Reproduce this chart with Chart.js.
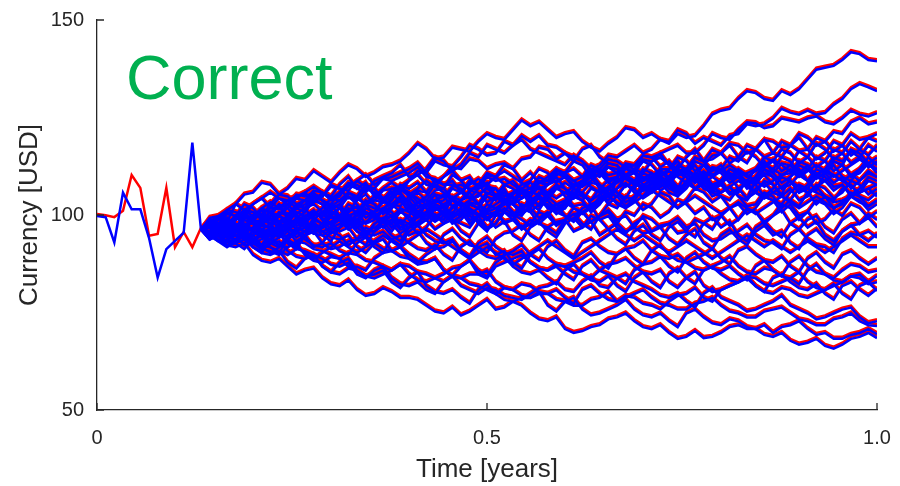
<!DOCTYPE html>
<html>
<head>
<meta charset="utf-8">
<script src="https://cdn.jsdelivr.net/npm/chart.js@4.4.1/dist/chart.umd.min.js"></script>
<style>
  html, body { margin: 0; padding: 0; background: #fff; }
  #contenedor { width: 900px; height: 486px; position: relative; }
</style>
</head>
<body>
<div id="contenedor"><canvas id="grafico"></canvas></div>
<script>
// time grid: 90 steps per year, the bundle starts at step 12
const dt = 1 / 90;
const startSteps = 12;

// the two single paths before the bundle
const redStart  = [100, 99.7, 99.2, 100.8, 110, 106.7, 94.4, 94.9, 106.7, 91.5, 95.4, 91.5, 96.5];
const blueStart = [100, 99.7, 93.2, 106, 101.7, 101.7, 94.4, 84.2, 91.5, 93.6, 95.7, 118.8, 96.5];

// upper outliers
const pathA = [96.5,99.5,100,98.5,103,105.5,106,108.5,108,105.5,107,109.5,109,111.5,110,108.5,111,113,112,110,111,112.5,113,114,116,118.5,117,114.5,115,117.5,117,116.5,119,121,120,119.5,122,124.5,123,124,122,120,121,121.5,119,117.5,116.5,118.5,120,122.5,122,120,121,119.5,118.5,121,120,120.5,123,126,127,127.5,130,132,131.5,130,129.5,132,131,132.5,135,137.5,138,138.5,140,142,141.5,140,139.7];
const pathB = [96.5,98.5,98,96,97,99.5,100,100.5,102,104.5,104,102,103,105.5,105,107.5,107,104.5,105,103,104,106.5,107,107.5,109,111.5,111,108.5,110,112.5,112,114.5,114,112,113,113.5,112,114.5,115,117.5,117,114.5,116,115,114,112,113,115.5,115,116.5,118,116,117,119.5,119,122,121,118.5,120,119,118,120.5,121,123.5,123,123.5,125,127.5,126.5,126,127,126,126.4,128.5,130,132.5,133.8,133,132];
const pathC = [96.5,94.5,95,97.5,97,96.5,99,100.5,98,98.5,100,102.5,102,103,101,99.5,99,100,101,103.5,104,103.5,106,107,105,102.5,103,104,105,107.5,108,107,107,110,109,109.5,108,106.5,106,107,108,110.5,111,112,110,111,112,114.5,114,112.5,113,115.5,115,116,117,118,116,116,118,121,120,119.5,122,124,123.8,122.5,123,125,124.5,124,125,125.5,124,123.5,125,127,126,125.5,126.4];
const pathD = [96.5,98,97,94.5,95,96.5,97,99.5,99,97,98,101,100,100.5,102,104.5,104,105,103,100.5,101,103.5,103,101,102,103.5,104,106.5,107,104.5,106,108.5,108,110.5,110,108,109,106.5,107,110,109,111.5,111,109,110,113,112,110.5,111,113.5,113,115.5,115,112.5,114,111.5,112,115,114,117,116,118.5,118,116,117,119.5,119,117.5,118,121,120,118,119,121.5,121,124,125,123.5,124];
const pathE = [96.5,96,98,100.5,100,97.5,99,101.5,101,102,103,100.5,102,105,104,102,103,106,105,108,107,104.5,106,103.5,104,106.5,106,109,108,108,107,104.5,105,107.5,107,105,106,108,109,112,111,108.5,110,107.5,108,111,110,112.5,112,110,111,114,113,110.5,112,115,114,111.5,113,115.5,116,113.5,115,118,117,115,116,119,118,116.5,117,120,119,116.5,118,121,119.5,120,121];
// dense upper band
const pathF = [96.5,98.5,98,97,99,101.5,101,99,100,100.5,102,104.5,104,103.5,106,104,105,108,107,106,109,110,111,113,110,110.5,112,115,114,111.5,113,116,115,118,117,116,118,120.5,119,120.5,118,117.5,116,114,117,118,115,113.5,113,110.5,112,114.5,114,115,113,112,115,117,114,114.5,116,118,115,113.5,117,119.5,116,115,118,120,117,114.5,116,119,118,115.5,117,120,119];
const pathG = [96.5,97,95,93.5,96,98,98,95.5,97,100,99,96.5,98,101,100,101.5,99,97.5,101,103,100,99,102,104,101,99.5,103,105.5,105,102.5,104,105,103,101.5,105,108,107,104.5,106,109,108,110,107,105.5,109,111,108,106.5,110,112.5,111,109,110,112,112,114,111,110.5,113,110.5,112,115,114,116.5,115,112.5,114,117,116,113.5,115,118.5,117,114.5,116,119,117,115.5,118];
const pathH = [96.5,99,97,98.5,99,100.5,98,96,96,94.5,98,99,100,101.5,99,96.5,97,99.5,99,98,101,102,103,105,102,100,100,103,102,99.5,101,103.5,103,106,105,103,104,107,106,105.5,108,109,110,108,109,112,111,108.5,110,113,112,111,114,116,113,110.5,111,114,113,112,112,109.5,110,111,112,115,114,111.5,113,116.5,115,112.5,114,117,116,113.5,115,118,116.5];
const pathI = [96.5,98,96,95,94,97,96,94.5,95,98,97,99.5,99,96.5,98,101,100,103,102,99.5,101,104,103,102.5,105,106,104,101.5,102,105,104,106.5,106,103.5,105,108,107,104.5,106,108.5,108,111,110,107.5,109,112,111,113.5,113,110.5,112,109,110,107.5,109,112,111,108.5,110,112.5,112,109.5,111,108,109,112,111,113.5,113,110.5,112,115,114,111.5,113,117,116,113.5,115];
const pathJ = [96.5,97,99,101.5,101,100,103,104.5,102,102,104,105,106,103.5,105,108,107,106.5,109,110.5,108,109.5,110,111,112,113.5,111,114,113,112.5,115,118,117,115.5,116,119,118,119.5,117,116,115,114,113,115.5,114,111.5,112,109,110,112,111,108,109,111.5,110,107.5,108,111,110,108,109,112,111,108.5,110,113,112,110.5,111,114,113,110.5,112,115,114,116.5,115,112.5,114];
const pathK = [96.5,95,97,99.5,98,97,100,101.5,99,100.5,97,95.5,99,100,101,103,100,97.5,98,101,100,98.5,99,102,101,102,103,105.5,102,100.5,104,106,103,100.5,101,103,103,106,105,102.5,104,107,106,104.5,108,110,107,105,109,110.5,108,107.5,110,112,109,107,111,113,110,107.5,108,111,110,109,112,114,111,108.5,110,113,112,109.5,111,114,113,110.5,112,115,113];
const pathL = [96.5,94,95,96,97,100,99,98.5,101,103,100,97.5,98,100.5,100,103,102,101,104,105.5,103,101,105,108,107,108.5,106,103.5,104,107,106,109,108,105.5,107,104,105,102.5,103,106,105,103,104,107,106,108.5,108,105.5,107,110,109,106.5,108,111,110,113,112,109.5,111,108,109,112,111,108,110,113.5,112,115,114,111,113,110,111,114,113,110,111,113.5,112];
const pathM = [96.5,95.5,98,99.5,97,94.5,95,98,97,94.5,96,99,98,95.5,97,100,99,100.5,98,96,96,99,98,101,100,97.5,99,102,101,98.5,100,103,102,99.5,101,104,103,100.5,102,105,104,101.5,103,106,105,104,107,109,106,104.5,108,111,110,107.5,109,112,111,108.5,110,107.5,109,110,107,104.5,109,110.5,108,105.5,110,112,109,106.5,111,113,110,109,112,113.5,111];
const pathN = [96.5,98,97,94.5,96,99,98,97.5,100,103,102,99.5,101,104,103,100,102,98.5,100,103,102,101.5,104,107,106,103.5,105,108,107,110.5,109,106.5,108,111,110,113,112,109,111,108.5,109,112,111,114,113,110,112,109.5,110,107.5,109,112,111,108.5,110,113,112,115,114,111.5,113,110,111,108.5,109,112,110,107,108,110.5,109,112,111,108.5,110,107,109,111.5,110];
const pathO = [96.5,97,95,92.5,93,96,95,92.5,94,97,96,93.5,95,98,97,100,99,96.5,98,101,100,97,99,96.5,97,100,99,96.5,98,101,100,103,102,99,101,98.5,99,102,101,98,100,103,102,105,104,101,103,106,105,102.5,104,107,106,109,108,105,107,110,109,106.5,108,105.5,106,109,108,105,107,110,109,106,108,111,110,107.5,108,105.5,107,110,109];
const pathP = [96.5,99,98,101,100,97.5,99,102,101,98.5,100,103,102,99,101,97.5,99,102,101,104,103,100.5,102,105,104,101,103,100,101,104,103,100.5,102,105,104,107,103,101,105,107.5,104,101.5,102,105,104,107,106,103,105,108,107,104.5,106,109,108,111,110,107,109,112,111,108.5,110,107,108,111,110,107,109,106,107,110,109,106.5,108,105,106,109,108];
const pathQ = [96.5,94,96,99,98,95.5,97,96,95,92.5,94,97,96,99.5,98,95.5,97,100,99,102,101,98.5,100,97,98,95.5,97,100,99,102.5,101,98,100,103,102,101,104,106,103,101.5,105,108,107,104.5,106,103,104,107,106,103.5,105,108,107,110,109,106.5,108,111,110,107,109,106,107,104.5,106,109,108,105,107,104,105,108,107,104.5,106,109,108,105.5,107];
const pathR = [96.5,98.5,97,96.5,99,101.5,101,100,103,105.5,105,103,104,106.5,106,105,108,110,107,108.5,105,104,107,106,109,110.5,108,107.5,110,111.5,109,110,107,108,105,103.5,106,107,104,103,106,108,105,102.5,103,102,105,104,107,108.5,106,105,108,109.5,107,106,109,110.5,108,106.5,106,107.5,105,104,107,108.5,106,105,104,102.5,106,107.5,105,104,107,108,105,104,106];
const pathS = [96.5,97.5,95,93.5,96,95,94,92.5,96,97.5,98,99,97,95.5,95,96.5,97,98.5,96,95,98,99.5,100,101.5,99,98,101,102.5,100,99,98,97,100,101,102,103.5,101,100,103,104.5,102,101,100,99,102,103,104,105.5,103,102,105,106.5,107,108.5,106,105,108,109.5,107,106,105,104,107,108.5,106,105,104,103,106,108,107,106,105,103.5,104,105,106,107,105];
const pathT = [96.5,99,98,95.5,97,100,99,96.5,98,101,100,103,102,105,104,101.5,103,100,101,98,99,102,101,98,100,103.5,102,99,101,98,99,101.5,98,96,100,101,99,102,101,103,103,100.5,102,105.5,104,101,103,106,105,108,107,110,109,106.5,108,111,110,107,108,105,106,107.5,105,102.5,103,106,105,102,104,107,106,103,105,102,103,106,105,102.5,104];
const pathU = [96.5,95,97,97.5,95,92.5,93,94,95,98,97,94.5,96,99,98,101,100,97.5,99,96,97,98.5,96,99,98,101,100,103,102,99.5,101,100,99,96.5,98,101,100,103,102,99.5,101,98,99,102,101,98.5,100,103,102,105,104,101.5,103,106,105,102,104,107,106,103.5,105,102,103,100.5,102,105,104,101,103,100,101,104,103,100.5,102,105,104,101.5,103];
const pathN1 = [96.5,98,99.5,98,100,101.5,100,102,103.5,102,100.5,102,104,105.5,104,102.5,104,106,104.5,103,105,107,108.5,107,105.5,107,109,107.5,106,104.5,106,108,109.5,108,110,111.5,110,108.5,107,108.5,110,112,110.5,109,107.5,109,111,112.5,111,109.5,108,109.5,111,109.5,108,106.5,108,110,111.5,110,108.5,110,112,110.5,109,107.5,109,110.5,112,110.5,109,110.5,112,110.5,109,110.5,109,111,110];
const pathN2 = [96.5,95,96.5,98,96.5,95,93.5,95,96.5,95,97,98.5,97,95.5,97,98.5,100,98.5,97,98.5,100,101.5,100,98.5,97,98.5,100,98.5,100,102,103.5,102,100.5,99,100.5,102,100.5,99,97.5,99,100.5,102,103.5,102,100.5,102,103.5,105,103.5,102,103.5,105,106.5,105,103.5,102,103.5,105,103.5,102,100.5,102,103.5,102,100.5,102,103.5,105,103.5,102,103.5,105,103.5,102,103.5,105,103.5,102.5,104];
const pathN3 = [96.5,98.5,100,101.5,103,101.5,103,104.5,106,104.5,103,104.5,106,107.5,106,104.5,106,107.5,109,107.5,106,104.5,106,107.5,106,104.5,103,101.5,103,104.5,103,101.5,100,101.5,103,104.5,103,104.5,106,107.5,106,104.5,106,107.5,109,107.5,106,107.5,109,110.5,109,107.5,106,107.5,109,110.5,112,110.5,109,107.5,106,107.5,109,107.5,106,104.5,106,107.5,109,107.5,106,107.5,109,110.5,109,107.5,106,107,108];
const pathN4 = [96.5,95,93.5,95,96.5,98,96.5,98,99.5,98,96.5,98,99.5,101,99.5,98,99.5,101,102.5,101,99.5,101,102.5,104,102.5,101,102.5,104,105.5,104,102.5,104,105.5,107,105.5,104,105.5,107,108.5,107,105.5,107,108.5,107,105.5,104,105.5,107,108.5,110,108.5,107,108.5,110,111.5,110,108.5,107,108.5,110,111.5,113,111.5,110,111.5,113,114.5,113,111.5,110,111.5,113,111.5,110,111.5,113,114.5,113,112];
// middle
const pathV = [96.5,94,95,98,97,94.5,96,99,98,95.5,97,96,95,92,93,96,95,92.5,94,97,96,98.5,98,95.5,97,100,99,102,101,98.5,100,103,102,99.5,101,98,99,96.5,98,101,100,97.5,99,96,97,100,99,96.5,98,101,100,103,102,99.5,101,104,103,100.5,102,99,100,97.5,99,102,101,98,100,103,102,99,101,98,99,101.5,100,103,102,99.5,101];
const pathW = [96.5,99,98,97.5,100,103,102,99.5,101,98,99,102,101,104,103,100.5,102,105,104,107,106,103.5,105,106,103,100.5,101,104,103,100,102,99,100,97,98,101,100,97,99,98,97,95.5,99,100.5,101,98.5,100,101,98,96,97,100,99,97,98,95.5,96,99,98,96.5,100,102,99,101.5,101,98.5,100,101.5,98,96.5,99,100,97,95.5,99,100.5,98,100.5,99];
const pathX = [96.5,97.5,95,92.5,94,95,92,90.5,94,95.5,93,91.5,95,97.5,97,98.5,96,97,94,92.5,96,97.5,95,93.5,97,98,99,100.5,98,99,96,94.5,98,99.5,97,98.5,95,93.5,97,98.5,96,94.5,98,99.5,97,98.5,95,96.5,94,92.5,96,97.5,95,93.5,97,98.5,96,94.5,98,99.5,97,98.5,95,93.5,97,98.5,96,94.5,98,99.5,97,98.5,95,93.5,96,97.5,98,99.5,97];
const pathY = [96.5,95.5,98,99.5,97,96,99,101.5,101,100,103,105.5,105,106,104,103,106,108.5,108,106.5,107,109.5,109,110,111,112.5,110,109.5,108,109,106,104.5,107,108.5,105,106,103,101.5,104,105.5,102,103,100,98.5,101,102.5,99,100,97,95.5,98,99.5,96,97,94,92.5,95,96.5,93,91.5,95,96.5,94,92.5,96,97.5,95,96,93,91.5,95,96.5,94,92.5,96,97.5,95,93.5,95.4];
const pathZ = [96.5,97.5,95,93.5,93,91.5,94,95.5,92,90.5,94,95.5,96,97.5,95,93.5,97,98.5,96,94.5,98,99.5,97,98.5,95,96,93,91.5,95,96.5,94,92.5,92,90.5,94,95.5,96,97.5,95,93.5,97,98.5,99,100.5,98,96.5,100,101.5,99,100,97,95.5,96,97.5,98,99.5,97,98,95,93.5,94,95.5,96,97.5,95,93.5,93,91.5,95,96.5,94,92.5,92,90.5,94,95.5,95,96,94.4];
const pathN5 = [96.5,95,93.5,92,93.5,95,93.5,92,90.5,92,93.5,92,90.5,89,90.5,92,93.5,92,90.5,92,93.5,95,93.5,92,93.5,95,96.5,95,93.5,92,90.5,89,90.5,92,90.5,89,87.5,89,90.5,92,93.5,92,90.5,89,90.5,92,93.5,95,96.5,95,93.5,95,93.5,92,90.5,92,93.5,92,90.5,89,90.5,92,93.5,95,93.5,92,93.5,92,90.5,92,93.5,92,90.5,92,93.5,95,93.5,92,92];
// lower band
const pathL1 = [96.5,94.5,95,96.5,96,95.5,94,92,93,94.5,95,96,94,92.5,92,93,91,90,93,94.5,92,90.5,94,95,93,91.5,91,92.5,90,88.5,92,93.5,91,89.5,89,90,91,92.5,90,88.5,92,93.5,91,89.5,93,94,92,90.5,90,91.5,89,87.5,91,92.5,90,88.5,88,89,90,91.5,89,87.5,91,92,90,88.5,88,89.5,87,85.5,89,90.5,88,86.5,90,91,89,87.5,89];
const pathL2 = [96.5,98,97,95.5,95,96,93,91.5,91,90,92,93,90,88.5,88,89.5,89,87,87,86,89,90.5,91,92,90,88.5,88,89,86,84.5,87,88.5,85,84,87,88,89,90,88,86.5,86,87,85,83.5,87,88.5,86,85,84,82.5,86,87.5,88,89.5,87,85.5,89,90.5,88,86.5,86,87,85,83.5,87,88.5,86,84.5,88,89.5,87,85.5,85,84,86,87.5,87,85.5,86];
const pathL3 = [96.5,99,98,97.5,100,101,99,97.5,97,96,99,100.5,98,96.5,96,97,98,99.5,97,95.5,95,96,94,92.5,96,97.5,95,93.5,93,94,91,89.5,92,93,90,91,88,86.5,90,91.5,89,87.5,87,88,89,90.5,88,86.5,90,91.5,92,93.5,91,89.5,89,90,88,86.5,86,87,88,89.5,87,85.5,85,86.5,86,84.5,84,82.5,86,87.5,85,83.5,83,84.5,85,83,84.6];
const pathL4 = [96.5,97,95,93.5,93,94,92,90.5,90,91,88,86.5,89,90,87,85.5,85,86.5,86,84.5,84,85,86,87.5,85,83.5,83,84,85,86.5,87,88.5,86,84.5,88,89.5,87,85.5,85,86,84,82.5,86,87.5,85,83.5,83,84.5,82,80.5,84,85.5,83,81.5,85,86.5,84,82.5,86,87,85,83.5,83,84.5,84,82.5,82,83,84,85.5,83,81.5,81,82,83,84.5,84,82.5,83];
const pathL5 = [96.5,98,96,94.5,94,93,95,96.5,93,92,95,96,97,98.5,96,94.5,94,95,92,90.5,93,94,91,89.5,89,88,90,91.5,92,93.5,91,89.5,93,94.5,92,90.5,90,91,88,86.5,86,87.5,87,85.5,85,84,86,87.5,88,89,87,85.5,85,86,83,81.5,84,85.5,82,80.5,81,82,83,84.5,82,80.5,84,85,83,81.5,81,82.5,80,78.5,82,83,81,79.5,81.3];
const pathL6 = [96.5,95.5,97,98.5,99,100,98,96.5,96,97,94,92.5,95,96,93,91.5,92,93.5,94,95,93,91.5,91,92,89,87.5,88,89,86,84.5,84,85,85,86,83,81.5,81,82.5,82,80.5,80,81,79,77.5,81,82,80,78.5,78,79.5,79,77.5,77,76,78,79.5,80,81.5,79,78,81,82,83,84,82,80.5,80,81.5,81,79.5,79,80,81,82.5,80,78.5,82,83,80.8];
// bottom band
const pathB1 = [96.5,96,94,92.5,92,93,90,88.5,88,89,87,85,86,86.5,84,82.5,82,83.5,81,79.5,80,81.5,80.5,79,79,78.5,77,75.5,75,76.5,74.5,75.5,77,78.5,76,76.5,78,77,75,73.5,73,74,71,70,70.5,71.5,72,73.5,74,75,73,71.5,71,72,70,68.5,69,70.5,68.7,69,70,71.5,72,71,71,69.5,69,70,68,67,67.5,68.5,66.7,66,67,68.5,69,70,68.7];
const pathB2 = [96.5,97.5,95,93.5,94,95,92,91,93,93.5,91,89.5,89,90,87,85.5,88,89,86,84.5,85,86,83,81.5,84,85.5,82,80.5,80,81,79,77.5,81,82.5,80,78.5,78,79,79,80.5,77,75.5,78,79,76,74.5,75,76,77,78.5,76,74.5,74,75,73,71.5,75,76,74,72.5,72,73.5,73,71.5,71,72,70,71.5,72,73,71,69.5,70,68.5,68.5,69.5,70,71,69.7];
const pathB3 = [96.5,95.5,97,96.5,95,94,96,95.5,94,92.5,92,93.5,93,91.5,91,90,89,90.5,90,88.5,88,87,86,87.5,87,85.5,85,84,83,84.5,84,82.5,82,81,80,81.5,81,79.5,79,80,80,78.5,78,77,77,78.5,79,80.5,78,79,80,81,79,77.5,77,76,76,77.5,78,79,77,75.5,75,74,74,75.5,76,76.5,75,73.5,73,72,72,73.5,74,75,73,72,71.8];
const pathB4 = [96.5,98,95,94.5,96,96.5,94,92.5,92,91,90,91.5,91,90,89,87.5,87,88,85,84,86,87,84,82.5,82,83,81,80,83,84.5,82,81,80,81.5,81,79.5,79,78.5,80,81.5,82,83,81,80.5,83,84.5,82,81.5,84,85,83,82,81,79.5,79,80,78,76.5,80,81.5,79,78,77,75.5,76,77,78,79.5,77,76,75,73.5,74,75,76,76.5,74,72.5,73];

const paths = [pathA, pathB, pathC, pathD, pathE, pathF, pathG, pathH, pathI, pathJ, pathK, pathL,
  pathM, pathN, pathO, pathP, pathQ, pathR, pathS, pathT, pathU, pathN1, pathN2, pathN3, pathN4,
  pathV, pathW, pathX, pathY, pathZ, pathN5,
  pathL1, pathL2, pathL3, pathL4, pathL5, pathL6, pathB1, pathB2, pathB3, pathB4];

const xTicks = [0, 0.5, 1];
const xTickLabels = ['0', '0.5', '1.0'];
const yTicks = [50, 100, 150];
const xTitle = 'Time [years]';
const yTitle = 'Currency [USD]';
const etiqueta = 'Correct';

document.addEventListener("DOMContentLoaded", () => {
  const ctx = document.getElementById('grafico').getContext('2d');
  const fuente = '"Liberation Sans", Arial, sans-serif';
  const colorEje = '#262626';

  const puntosInicio = vals => vals.map((v, i) => ({ x: i * dt, y: v }));
  const puntosCamino = vals => vals.map((v, k) => ({ x: (startSteps + k) * dt, y: v }));

  const linea = (data, color, shift) => ({ data, borderColor: color, borderWidth: 2.5, shift });

  // blue first so it ends up painted on top
  const datasets = [
    linea(puntosInicio(blueStart), '#0000ff', 1),
    ...paths.map(p => linea(puntosCamino(p), '#0000ff', 1)),
    linea(puntosInicio(redStart), '#ff0000', -1),
    ...paths.map(p => linea(puntosCamino(p), '#ff0000', -1))
  ];

  // small vertical offset between the red and blue copies
  const desplazamiento = {
    id: 'desplazamiento',
    beforeDatasetDraw(chart, args) {
      const s = chart.data.datasets[args.index].shift || 0;
      chart.ctx.save();
      chart.ctx.translate(0, s);
    },
    afterDatasetDraw(chart) { chart.ctx.restore(); }
  };

  // inward ticks + the green label
  const marcas = {
    id: 'marcas',
    afterDraw(chart) {
      const { ctx, chartArea: a, scales: { x, y } } = chart;
      ctx.save();
      ctx.strokeStyle = colorEje;
      ctx.lineWidth = 1.3;
      ctx.beginPath();
      xTicks.forEach(v => {
        const px = x.getPixelForValue(v);
        ctx.moveTo(px, a.bottom); ctx.lineTo(px, a.bottom - 7);
      });
      yTicks.forEach(v => {
        const py = y.getPixelForValue(v);
        ctx.moveTo(a.left, py); ctx.lineTo(a.left + 7, py);
      });
      ctx.stroke();
      ctx.fillStyle = '#00b050';
      ctx.font = '63px ' + fuente;
      ctx.textBaseline = 'alphabetic';
      ctx.fillText(etiqueta, a.left + 29, a.top + 79);
      ctx.restore();
    }
  };

  new Chart(ctx, {
    type: 'line',
    data: { datasets },
    options: {
      responsive: true,
      maintainAspectRatio: false,
      animation: false,
      layout: { padding: { top: 20, right: 23, left: 0, bottom: 0 } },
      elements: { point: { radius: 0 }, line: { tension: 0 } },
      plugins: { legend: { display: false }, tooltip: { enabled: false } },
      scales: {
        x: {
          type: 'linear', min: 0, max: 1,
          afterBuildTicks: s => { s.ticks = xTicks.map(v => ({ value: v })); },
          afterFit: s => { s.height = 76; s.paddingLeft = 0; s.paddingRight = 0; },
          ticks: {
            color: colorEje, padding: 16, maxRotation: 0,
            font: { family: fuente, size: 20 },
            callback: (v) => xTickLabels[xTicks.indexOf(v)]
          },
          grid: { display: false, drawTicks: false },
          border: { display: true, color: colorEje, width: 1.3 },
          title: { display: true, text: xTitle, color: colorEje, font: { family: fuente, size: 26 }, padding: { top: 0, bottom: 1 } }
        },
        y: {
          min: 50, max: 150,
          afterBuildTicks: s => { s.ticks = yTicks.map(v => ({ value: v })); },
          afterFit: s => { s.width = 97; s.paddingTop = 0; s.paddingBottom = 0; },
          ticks: { color: colorEje, padding: 13, font: { family: fuente, size: 20 } },
          grid: { display: false, drawTicks: false },
          border: { display: true, color: colorEje, width: 1.3 },
          title: { display: true, text: yTitle, color: colorEje, font: { family: fuente, size: 26 }, padding: { top: 14, bottom: 0 } }
        }
      }
    },
    plugins: [desplazamiento, marcas]
  });
});
</script>
</body>
</html>
